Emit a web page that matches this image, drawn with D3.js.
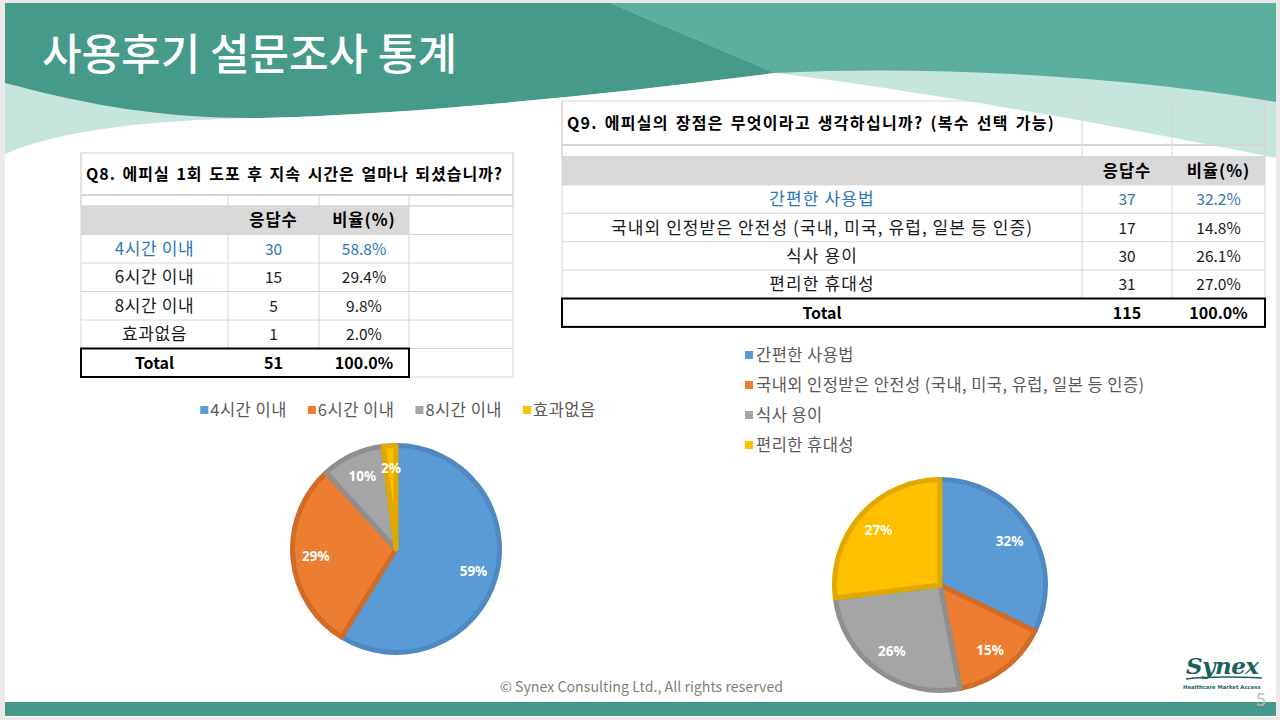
<!DOCTYPE html>
<html>
<head>
<meta charset="utf-8">
<script src="https://cdn.jsdelivr.net/npm/d3@7"></script>
<style>
body { margin: 0; background: #fff; }
svg { display: block; font-family: "Noto Sans CJK KR", "Noto Sans", sans-serif; }
</style>
</head>
<body>
<svg width="1280" height="720"></svg>
<script>
// slide text
const pageTitle = "사용후기 설문조사 통계"
const footerText = "© Synex Consulting Ltd., All rights reserved"
const headers = ["응답수", "비율(%)"]

// Q8 data
const q8Question = "Q8. 에피실 1회 도포 후 지속 시간은 얼마나 되셨습니까?"
const q8Labels = ["4시간 이내", "6시간 이내", "8시간 이내", "효과없음"]
const q8Counts = [30, 15, 5, 1]
const q8Pct = [58.8, 29.4, 9.8, 2.0]
const q8Total = 51

// Q9 data
const q9Question = "Q9. 에피실의 장점은 무엇이라고 생각하십니까? (복수 선택 가능)"
const q9Labels = ["간편한 사용법", "국내외 인정받은 안전성 (국내, 미국, 유럽, 일본 등 인증)", "식사 용이", "편리한 휴대성"]
const q9Counts = [37, 17, 30, 31]
const q9Pct = [32.2, 14.8, 26.1, 27.0]
const q9Total = 115

const colors = ["#5b9bd5", "#ed7d31", "#a5a5a5", "#ffc000"]
const edges = ["#4f89c2", "#d06c28", "#8f8f8f", "#e0a800"]
const blueText = "#2e75b6"
const gridCol = "#d6d6d6"

var svg = d3.select("svg")

// ---- header background ----
svg.append("rect").attr("width", 1280).attr("height", 720).attr("fill", "#e9e9e9")
svg.append("rect").attr("x", 5).attr("y", 3).attr("width", 1271).attr("height", 714).attr("fill", "#fff")

var head = svg.append("g")
head.append("rect").attr("x", 5).attr("y", 3).attr("width", 1271).attr("height", 160).attr("fill", "#c5e5dd")
head.append("path").attr("fill", "#5caf9f")
    .attr("d", "M610,3 L1276,3 L1276,102 C1150,80 950,64 775,73 Z")
head.append("path").attr("fill", "#459a89")
    .attr("d", "M5,3 L610,3 L775,73 C600,95 420,114 260,118 C150,119 70,100 5,83 Z")
head.append("path").attr("fill", "#fff")
    .attr("d", "M5,154 C60,130 150,120 260,118 C420,114 600,95 775,73 C900,88 1100,122 1276,158 L1276,170 L5,170 Z")

svg.append("text").attr("x", 42).attr("y", 70)
    .attr("fill", "#fff").attr("font-size", 43).attr("font-weight", 500)
    .text(pageTitle)

// ---- tables ----
function drawTable(g, o) {
    let cols = o.cols
    let n = o.labels.length
    let rowY = d3.range(n + 3).map((i) => o.headTop + i * o.rowH)
    let right = cols[cols.length - 1]

    // question row
    g.append("rect").attr("x", cols[0]).attr("y", o.qTop)
        .attr("width", right - cols[0]).attr("height", o.headTop - o.qTop)
        .attr("fill", "none").attr("stroke", gridCol)
    g.append("line").attr("x1", cols[0]).attr("x2", right)
        .attr("y1", o.qBottom).attr("y2", o.qBottom).attr("stroke", gridCol).attr("stroke-width", 2)
    cols.slice(1, -1).forEach((c) => {
        g.append("line").attr("x1", c).attr("x2", c)
            .attr("y1", o.qLines ? o.qTop : o.qBottom).attr("y2", rowY[n + 2])
            .attr("stroke", gridCol)
    })
    g.append("text").attr("x", cols[0] + 5).attr("y", (o.qTop + o.qBottom) / 2 + 6)
        .attr("font-size", 16).attr("font-weight", 700)
        .attr("letter-spacing", o.ls).attr("word-spacing", 2)
        .text(o.question)

    // header
    g.append("rect").attr("x", cols[0]).attr("y", rowY[0])
        .attr("width", cols[3] - cols[0]).attr("height", o.rowH).attr("fill", "#d9d9d9")
    rowY.forEach((y) => {
        g.append("line").attr("x1", cols[0]).attr("x2", right)
            .attr("y1", y).attr("y2", y).attr("stroke", gridCol)
    })
    g.append("line").attr("x1", right).attr("x2", right)
        .attr("y1", o.qTop).attr("y2", rowY[n + 2]).attr("stroke", gridCol)
    g.append("line").attr("x1", cols[0]).attr("x2", cols[0])
        .attr("y1", o.qTop).attr("y2", rowY[n + 2]).attr("stroke", gridCol)

    let mid = (i) => (cols[i] + cols[i + 1]) / 2
    headers.forEach((h, i) => {
        g.append("text").attr("x", mid(i + 1)).attr("y", rowY[0] + o.rowH / 2 + 6)
            .attr("text-anchor", "middle").attr("font-size", 16.5).attr("font-weight", 700)
            .attr("letter-spacing", 1)
            .text(h)
    })

    o.labels.forEach((l, i) => {
        let y = rowY[i + 1] + o.rowH / 2 + 6
        let fill = i == 0 ? blueText : "#1a1a1a"
        let cells = [l, o.counts[i], o.pct[i].toFixed(1) + "%"]
        cells.forEach((c, j) => {
            g.append("text").attr("x", mid(j)).attr("y", y)
                .attr("text-anchor", "middle")
                .attr("font-size", j == 0 ? 17 : 15.5)
                .attr("letter-spacing", j == 0 ? o.labelLs : 0)
                .attr("fill", fill)
                .text(c)
        })
    })

    // total
    let ty = rowY[n + 1]
    g.append("rect").attr("x", cols[0]).attr("y", ty)
        .attr("width", cols[3] - cols[0]).attr("height", o.rowH)
        .attr("fill", "#fff").attr("stroke", "#000").attr("stroke-width", 2)
    let totals = ["Total", o.total, (o.total / o.total * 100).toFixed(1) + "%"]
    totals.forEach((c, j) => {
        g.append("text").attr("x", mid(j)).attr("y", ty + o.rowH / 2 + 6)
            .attr("text-anchor", "middle").attr("font-size", 16).attr("font-weight", 700)
            .text(c)
    })
}

drawTable(svg.append("g"), {
    cols: [81, 228, 319, 409, 513], qTop: 153, qBottom: 195, headTop: 206, rowH: 28.5,
    question: q8Question, labels: q8Labels, counts: q8Counts, pct: q8Pct, total: q8Total,
    qLines: false, ls: 1.0, labelLs: 0.6
})
drawTable(svg.append("g"), {
    cols: [562, 1082, 1172, 1265], qTop: 101, qBottom: 145, headTop: 156.5, rowH: 28.4,
    question: q9Question, labels: q9Labels, counts: q9Counts, pct: q9Pct, total: q9Total,
    qLines: true, ls: 1.3, labelLs: 1.1
})

// ---- pies ----
function drawPie(g, cx, cy, r, counts, pct) {
    let pie = d3.pie().sort(null).value((d) => d)
    let arcs = pie(counts)
    let arc = d3.arc().innerRadius(0).outerRadius(r - 2.5)
    let labelArc = d3.arc().innerRadius(r * 0.76).outerRadius(r * 0.76)
    let pg = g.append("g").attr("transform", `translate(${cx},${cy})`)
    pg.selectAll("path.slice").data(arcs).join("path")
        .attr("class", "slice")
        .attr("d", arc)
        .attr("fill", (d, i) => colors[i])
        .attr("stroke", (d, i) => edges[i])
        .attr("stroke-width", 5)
        .attr("stroke-linejoin", "round")
    pg.selectAll("text").data(arcs).join("text")
        .attr("transform", (d) => `translate(${labelArc.centroid(d)})`)
        .attr("text-anchor", "middle").attr("dy", "0.35em")
        .attr("fill", "#fff").attr("font-size", 13.5).attr("font-weight", 700)
        .attr("font-family", "'Noto Sans', sans-serif")
        .text((d, i) => Math.round(pct[i]) + "%")
}

drawPie(svg.append("g"), 396, 549, 106, q8Counts, q8Pct)
drawPie(svg.append("g"), 940, 585, 108, q9Counts, q9Pct)

// ---- legends ----
var leg8 = svg.append("g")
let x = 0
q8Labels.forEach((l, i) => {
    let it = leg8.append("g").attr("transform", `translate(${x},0)`)
    it.append("rect").attr("x", 0).attr("y", -4).attr("width", 8).attr("height", 8).attr("fill", colors[i])
    let t = it.append("text").attr("x", 10).attr("y", 6)
        .attr("font-size", 16.5).attr("letter-spacing", 0.5).attr("fill", "#595959").text(l)
    x += 10 + t.node().getComputedTextLength() + 21
})
leg8.attr("transform", `translate(${398 - (x - 21) / 2},410)`)

var leg9 = svg.append("g").attr("transform", "translate(745,355)")
q9Labels.forEach((l, i) => {
    let it = leg9.append("g").attr("transform", `translate(0,${i * 30})`)
    it.append("rect").attr("x", 0).attr("y", -4).attr("width", 8).attr("height", 8).attr("fill", colors[i])
    it.append("text").attr("x", 11).attr("y", 6)
        .attr("font-size", 16.5).attr("letter-spacing", 0.45).attr("fill", "#595959").text(l)
})

// ---- footer ----
svg.append("text").attr("x", 500).attr("y", 692)
    .attr("font-size", 14.2).attr("fill", "#808080").text(footerText)
svg.append("rect").attr("x", 5).attr("y", 702).attr("width", 1271).attr("height", 14).attr("fill", "#44998a")

var logo = svg.append("g")
logo.append("text").attr("x", 1186).attr("y", 674)
    .attr("font-family", "'DejaVu Serif', serif").attr("font-style", "italic").attr("font-weight", 700)
    .attr("font-size", 23).attr("letter-spacing", -0.5).attr("fill", "#1d5f5c").text("Synex")
logo.append("path").attr("d", "M1186,679 C1210,676 1240,677 1262,678")
    .attr("stroke", "#1d5f5c").attr("stroke-width", 1.5).attr("fill", "none")
logo.append("text").attr("x", 1183).attr("y", 689)
    .attr("font-family", "'DejaVu Sans', sans-serif").attr("font-weight", 700)
    .attr("font-size", 5.3).attr("fill", "#1d5f5c").text("Healthcare Market Access")
logo.append("text").attr("x", 1256).attr("y", 706)
    .attr("font-size", 18).attr("fill", "#bdbdbd").text("5")
</script>
</body>
</html>
